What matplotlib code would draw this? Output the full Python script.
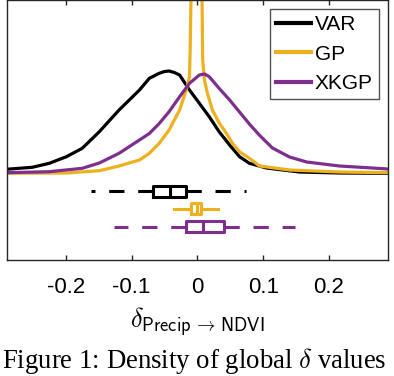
import matplotlib.pyplot as plt

plt.rcParams['font.family'] = ['Liberation Sans', 'DejaVu Sans']
plt.rcParams['mathtext.fontset'] = 'cm'

# density curves: delta value, density
var_x = [-0.291, -0.251, -0.225, -0.199, -0.175, -0.149, -0.119, -0.088, -0.073, -0.058,
         -0.050, -0.043, -0.035, -0.027, -0.012, 0.003, 0.018, 0.033, 0.049, 0.064,
         0.079, 0.105, 0.155, 0.216, 0.289]
var_y = [0.42, 0.62, 1.02, 1.68, 2.52, 4.18, 6.35, 8.35, 9.52, 10.02,
         10.2, 10.25, 10.1, 9.85, 8.35, 7.02, 5.68, 4.18, 2.85, 1.68,
         1.02, 0.55, 0.15, 0.05, 0.02]

gp_x = [-0.291, -0.199, -0.149, -0.119, -0.088, -0.073, -0.058, -0.043, -0.027, -0.017,
        -0.012, -0.011, -0.0097, -0.0015, 0.0070, 0.0081, 0.0107, 0.0152, 0.0228, 0.0335,
        0.0441, 0.0533, 0.0639, 0.0791, 0.0944, 0.140, 0.216, 0.289]
gp_y = [0.02, 0.05, 0.28, 0.75, 1.35, 2.02, 3.02, 4.35, 6.35, 8.35,
        9.68, 12.35, 17.85, 28.0, 17.85, 11.35, 9.35, 8.02, 6.35, 5.02,
        4.02, 3.02, 2.18, 1.52, 0.75, 0.35, 0.15, 0.08]

xkgp_x = [-0.291, -0.225, -0.175, -0.149, -0.119, -0.088, -0.073, -0.058, -0.043, -0.027,
          -0.012, 0.003, 0.011, 0.018, 0.033, 0.049, 0.064, 0.079, 0.094, 0.114,
          0.140, 0.166, 0.216, 0.266, 0.289]
xkgp_y = [0.08, 0.18, 0.52, 1.05, 2.02, 3.35, 4.0, 5.0, 6.18, 7.68,
          9.02, 9.85, 9.95, 9.68, 8.52, 7.35, 6.15, 4.95, 3.85, 2.55,
          1.65, 1.15, 0.75, 0.55, 0.45]

# box plot summaries: whislo, q1, median, q3, whishi
var_box = [-0.162, -0.068, -0.042, -0.017, 0.074]
gp_box = [-0.035, -0.0095, -0.001, 0.0055, 0.031]
xkgp_box = [-0.126, -0.018, 0.009, 0.040, 0.148]

names = ["VAR", "GP", "XKGP"]
colors = ["black", "#EDB120", "#7E2F8E"]
ticks = [-0.2, -0.1, 0, 0.1, 0.2]
tick_labels = ["-0.2", "-0.1", "0", "0.1", "0.2"]

fig = plt.figure(figsize=(3.94, 3.76), dpi=100)
ax = fig.add_axes([0.0165, 0.3085, 0.969, 0.6928])

curves = [(var_x, var_y), (gp_x, gp_y), (xkgp_x, xkgp_y)]
for (xs, ys), name, c in zip(curves, names, colors):
    ax.plot(xs, ys, color=c, lw=2.3, label=name)

# boxes sit below the zero line
box_pos = [-1.78, -3.53, -5.32]
dashes = [(0, (5, 4.5)), '-', (0, (5, 4.5))]
for box, pos, c, ls in zip([var_box, gp_box, xkgp_box], box_pos, colors, dashes):
    st = dict(whislo=box[0], q1=box[1], med=box[2], q3=box[3], whishi=box[4], fliers=[])
    ax.bxp([st], positions=[pos], widths=1.07, orientation='horizontal',
           showcaps=False, showfliers=False,
           boxprops=dict(color=c, lw=2.2),
           medianprops=dict(color=c, lw=2.2),
           whiskerprops=dict(color=c, lw=2.2, linestyle=ls))

ax.set_xlim(-0.29, 0.29)
ax.set_ylim(-8.65, 17.4)
ax.set_xticks(ticks)
ax.set_xticklabels(tick_labels)
ax.set_yticks([])
ax.tick_params(axis='x', direction='in', top=True, length=3.5, width=1,
               color='#262626', labelsize=16, pad=12)
for s in ax.spines.values():
    s.set_color('#262626')
    s.set_linewidth(1)

ax.set_xlabel(r'$\delta_{\mathsf{Precip}\,\rightarrow\,\mathsf{NDVI}}$', fontsize=19, labelpad=5)

leg = ax.legend(loc='upper right', bbox_to_anchor=(379 / 394, 1 - 9 / 376),
                bbox_transform=fig.transFigure, fontsize=15, frameon=True, fancybox=False,
                borderaxespad=0, borderpad=0.3, handlelength=1.65, handletextpad=0.2,
                labelspacing=0.5)
leg.get_frame().set_edgecolor('#262626')
leg.get_frame().set_linewidth(1)
for h in leg.get_lines():
    h.set_linewidth(3)

fig.text(0.492, 0.022, r'Figure 1: Density of global $\delta$ values',
         family='Liberation Serif', fontsize=19.3, ha='center', va='baseline')

fig.savefig('out.png', dpi=100)
